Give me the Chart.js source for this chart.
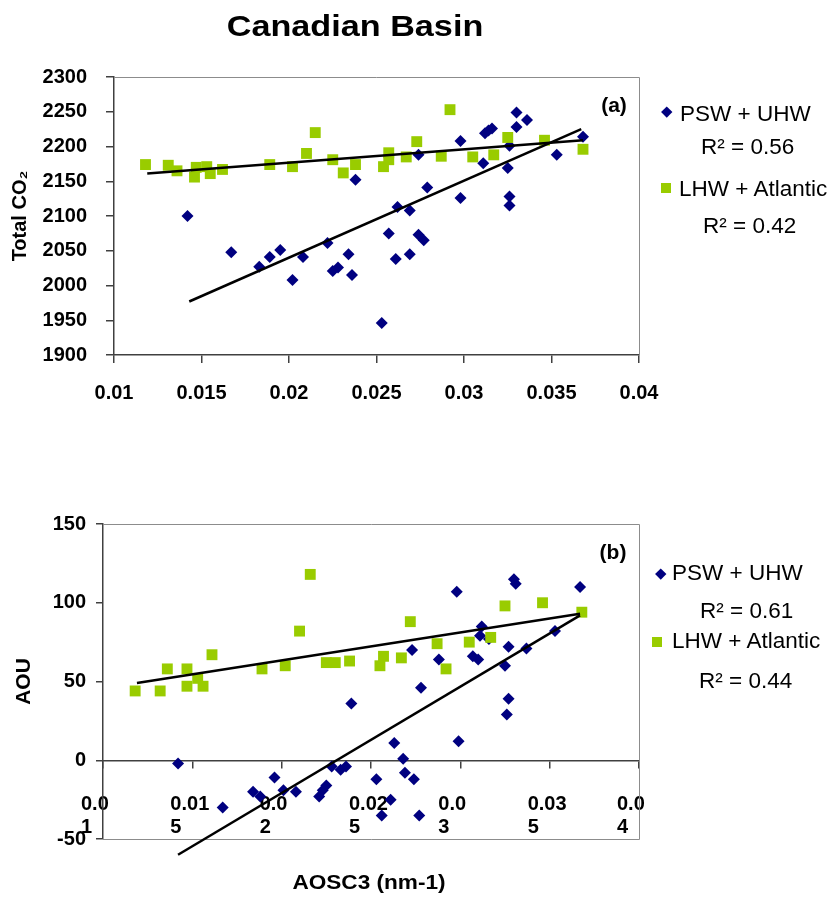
<!DOCTYPE html>
<html>
<head>
<meta charset="utf-8">
<title>Canadian Basin</title>
<script src="https://cdn.jsdelivr.net/npm/chart.js@4.4.1/dist/chart.umd.min.js"></script>
<style>
  html, body { margin: 0; padding: 0; background: #fff; }
  #page { position: relative; width: 836px; height: 898px; overflow: hidden;
          font-family: "Liberation Sans", Arial, Helvetica, sans-serif; color: #000; }
  canvas { position: absolute; left: 0; }
  .t { position: absolute; white-space: nowrap; line-height: 1; }
  .c { transform: translate(-50%, -50%); }
  .l { transform: translateY(-50%); }
  .b { font-weight: bold; }
  .leg { font-size: 22.5px; }
  .mk { position: absolute; }
</style>
</head>
<body>
<div id="page">
  <canvas id="chartA" width="836" height="440" style="top:0"></canvas>
  <canvas id="chartB" width="836" height="458" style="top:440px"></canvas>

  <div class="t b" style="left:355px; top:26px; font-size:30px; transform:translate(-50%,-50%) scaleX(1.14)">Canadian Basin</div>
  <div class="t b c" style="left:614px; top:104px; font-size:21px">(a)</div>
  <div class="t b c" style="left:613px; top:551px; font-size:21px">(b)</div>
  <div class="t b" style="left:369px; top:882px; font-size:20px; transform:translate(-50%,-50%) scaleX(1.13)">AOSC3 (nm-1)</div>

  <!-- legend (a) -->
  <div class="mk" style="left:663px; top:108px; width:7.5px; height:7.5px; background:#000080; transform:rotate(45deg)"></div>
  <div class="t l leg" style="left:680px; top:114px">PSW + UHW</div>
  <div class="t l leg" style="left:701px; top:147px">R² = 0.56</div>
  <div class="mk" style="left:661px; top:183px; width:10px; height:10px; background:#99CC00"></div>
  <div class="t l leg" style="left:679px; top:189px">LHW + Atlantic</div>
  <div class="t l leg" style="left:703px; top:226px">R² = 0.42</div>

  <!-- legend (b) -->
  <div class="mk" style="left:657px; top:570px; width:7.5px; height:7.5px; background:#000080; transform:rotate(45deg)"></div>
  <div class="t l leg" style="left:672px; top:573px">PSW + UHW</div>
  <div class="t l leg" style="left:700px; top:611px">R² = 0.61</div>
  <div class="mk" style="left:652px; top:637px; width:10px; height:10px; background:#99CC00"></div>
  <div class="t l leg" style="left:672px; top:641px">LHW + Atlantic</div>
  <div class="t l leg" style="left:699px; top:681px">R² = 0.44</div>
</div>

<script>
// ---- (a) Total CO2 vs AOSC3 ----
const pswA_x = [0.0142, 0.0167, 0.0183, 0.0189, 0.0195, 0.0202, 0.0208, 0.0222, 0.0225, 0.0228,
                0.0234, 0.0236, 0.0238, 0.0253, 0.0257, 0.0261, 0.0262, 0.0269, 0.0269, 0.0274,
                0.0274, 0.0277, 0.0279, 0.0298, 0.0298, 0.0311, 0.0312, 0.0314, 0.0316, 0.0325,
                0.0326, 0.0326, 0.0326, 0.0330, 0.0330, 0.0336, 0.0353, 0.0368];
const pswA_y = [2100, 2048, 2027, 2041, 2051, 2008, 2041, 2061, 2021, 2026,
                2045, 2015, 2152, 1946, 2075, 2038, 2113, 2108, 2045, 2073,
                2188, 2065, 2141, 2126, 2208, 2176, 2219, 2223, 2226, 2169,
                2201, 2128, 2115, 2249, 2228, 2238, 2188, 2214];
const lhwA_x = [0.0118, 0.0131, 0.0136, 0.0146, 0.0147, 0.0153, 0.0155, 0.0162, 0.0189, 0.0202,
                0.0210, 0.0215, 0.0225, 0.0231, 0.0238, 0.0254, 0.0257, 0.0257, 0.0267, 0.0273,
                0.0287, 0.0292, 0.0305, 0.0317, 0.0325, 0.0346, 0.0368];
const lhwA_y = [2174, 2173, 2165, 2156, 2170, 2171, 2161, 2167, 2174, 2171,
                2190, 2220, 2181, 2162, 2174, 2171, 2191, 2181, 2185, 2207,
                2186, 2253, 2185, 2188, 2213, 2209, 2196];
// trend line end points
const pswA_fitX = [0.0143, 0.0367];
const pswA_fitY = [1977, 2225];
const lhwA_fitX = [0.0119, 0.0368];
const lhwA_fitY = [2161, 2209];
const xTicksA = ['0.01', '0.015', '0.02', '0.025', '0.03', '0.035', '0.04'];
const yTicksA = ['1900', '1950', '2000', '2050', '2100', '2150', '2200', '2250', '2300'];

// ---- (b) AOU vs AOSC3 ----
const pswB_x = [0.0142, 0.0167, 0.0184, 0.0188, 0.0196, 0.0201, 0.0208, 0.0221, 0.0223, 0.0225,
                0.0228, 0.0233, 0.0236, 0.0239, 0.0253, 0.0256, 0.0261, 0.0263, 0.0268, 0.0269,
                0.0273, 0.0274, 0.0277, 0.0278, 0.0288, 0.0298, 0.0299, 0.0307, 0.0310, 0.0311,
                0.0312, 0.0316, 0.0325, 0.0327, 0.0326, 0.0327, 0.0330, 0.0331, 0.0337, 0.0353,
                0.0367];
const pswB_y = [-2, -30, -20, -23, -11, -19, -20, -23, -19, -16,
                -4, -6, -4, 36, -12, -35, -25, 11, 1, -8,
                70, -12, -35, 46, 64, 107, 12, 66, 64, 79,
                85, 77, 60, 72, 29, 39, 115, 112, 71, 82,
                110];
const lhwB_x = [0.0118, 0.0132, 0.0136, 0.0147, 0.0147, 0.0153, 0.0156, 0.0161, 0.0189, 0.0202,
                0.0210, 0.0216, 0.0225, 0.0230, 0.0238, 0.0255, 0.0257, 0.0267, 0.0272, 0.0287,
                0.0292, 0.0305, 0.0317, 0.0325, 0.0346, 0.0368];
const lhwB_y = [44, 44, 58, 58, 47, 52, 47, 67, 58, 60,
                82, 118, 62, 62, 63, 60, 66, 65, 88, 74,
                58, 75, 78, 98, 100, 94];
const pswB_fitX = [0.0142, 0.0367];
const pswB_fitY = [-60, 92];
const lhwB_fitX = [0.0119, 0.0367];
const lhwB_fitY = [49, 93];
const xTicksB = [['0.0', '1'], ['0.01', '5'], ['0.0', '2'], ['0.02', '5'], ['0.0', '3'], ['0.03', '5'], ['0.0', '4']];
const yTicksB = ['-50', '0', '50', '100', '150'];

const NAVY = '#000080';
const LIME = '#99CC00';

Chart.defaults.font.family = '"Liberation Sans", Arial, Helvetica, sans-serif';
Chart.defaults.color = '#000';

function pts(xs, ys) {
  return xs.map((x, i) => ({ x: x, y: ys[i] }));
}

// grey frame on top / right (and bottom for chart b)
const framePlugin = {
  id: 'frame',
  beforeDatasetsDraw(chart, args, opts) {
    const a = chart.chartArea;
    const ctx = chart.ctx;
    ctx.save();
    ctx.strokeStyle = '#8c8c8c';
    ctx.lineWidth = 1;
    ctx.beginPath();
    ctx.moveTo(a.left, Math.round(a.top) + 0.5);
    ctx.lineTo(Math.round(a.right) + 0.5, Math.round(a.top) + 0.5);
    ctx.lineTo(Math.round(a.right) + 0.5, Math.round(a.bottom) + 0.5);
    if (opts.bottom) ctx.lineTo(a.left, Math.round(a.bottom) + 0.5);
    ctx.stroke();
    ctx.restore();
  }
};

function datasets(pswX, pswY, lhwX, lhwY, pfX, pfY, lfX, lfY) {
  return [
    { label: 'PSW fit', data: pts(pfX, pfY), showLine: true, borderColor: '#000', borderWidth: 2.5,
      pointRadius: 0, order: 0, clip: false },
    { label: 'LHW fit', data: pts(lfX, lfY), showLine: true, borderColor: '#000', borderWidth: 2.5,
      pointRadius: 0, order: 0, clip: false },
    { label: 'PSW + UHW', data: pts(pswX, pswY), pointStyle: 'rectRot', pointRadius: 6,
      backgroundColor: NAVY, borderWidth: 0, order: 2 },
    { label: 'LHW + Atlantic', data: pts(lhwX, lhwY), pointStyle: 'rect', pointRadius: 7.7,
      backgroundColor: LIME, borderWidth: 0, order: 1 }
  ];
}

function axisLook(tickLen) {
  return {
    grid: { display: true, drawOnChartArea: false, drawTicks: true, tickLength: tickLen,
            color: '#404040', lineWidth: 1.5 },
    border: { display: true, color: '#404040', width: 1.5 }
  };
}

const tickFont = { size: 20, weight: 'bold', lineHeight: 1.15 };

new Chart(document.getElementById('chartA'), {
  type: 'scatter',
  data: { datasets: datasets(pswA_x, pswA_y, lhwA_x, lhwA_y, pswA_fitX, pswA_fitY, lhwA_fitX, lhwA_fitY) },
  options: {
    responsive: false,
    animation: false,
    events: [],
    layout: { padding: { top: 77, right: 197, bottom: 0, left: 0 } },
    plugins: { legend: { display: false }, tooltip: { enabled: false }, frame: { bottom: false } },
    scales: {
      x: Object.assign({
        type: 'linear', min: 0.01, max: 0.04,
        ticks: { stepSize: 0.005, autoSkip: false, maxRotation: 0, padding: 19, font: tickFont,
                 callback: (v, i) => xTicksA[i] },
        afterFit: s => { s.height = 85; }
      }, axisLook(8)),
      y: Object.assign({
        type: 'linear', min: 1900, max: 2300,
        ticks: { stepSize: 50, autoSkip: false, padding: 19, font: tickFont,
                 callback: (v, i) => yTicksA[i] },
        title: { display: true, text: 'Total CO₂', font: { size: 20, weight: 'bold' }, padding: { top: 8, bottom: 0 } },
        afterFit: s => { s.width = 114; }
      }, axisLook(8))
    }
  },
  plugins: [framePlugin]
});

new Chart(document.getElementById('chartB'), {
  type: 'scatter',
  data: { datasets: datasets(pswB_x, pswB_y, lhwB_x, lhwB_y, pswB_fitX, pswB_fitY, lhwB_fitX, lhwB_fitY) },
  options: {
    responsive: false,
    animation: false,
    events: [],
    layout: { padding: { top: 84, right: 197, bottom: 59, left: 0 } },
    plugins: { legend: { display: false }, tooltip: { enabled: false }, frame: { bottom: true } },
    scales: {
      x: Object.assign({
        type: 'linear', min: 0.01, max: 0.04, position: { y: 0 },
        ticks: { stepSize: 0.005, autoSkip: false, maxRotation: 0, padding: 26, font: tickFont,
                 align: 'start', labelOffset: -22, callback: (v, i) => xTicksB[i] }
      }, axisLook(7)),
      y: Object.assign({
        type: 'linear', min: -50, max: 150,
        ticks: { stepSize: 50, autoSkip: false, padding: 10, font: tickFont,
                 callback: (v, i) => yTicksB[i] },
        title: { display: true, text: 'AOU', font: { size: 21, weight: 'bold' }, padding: { top: 12, bottom: 0 } },
        afterFit: s => { s.width = 103; }
      }, axisLook(7))
    }
  },
  plugins: [framePlugin]
});
</script>
</body>
</html>
